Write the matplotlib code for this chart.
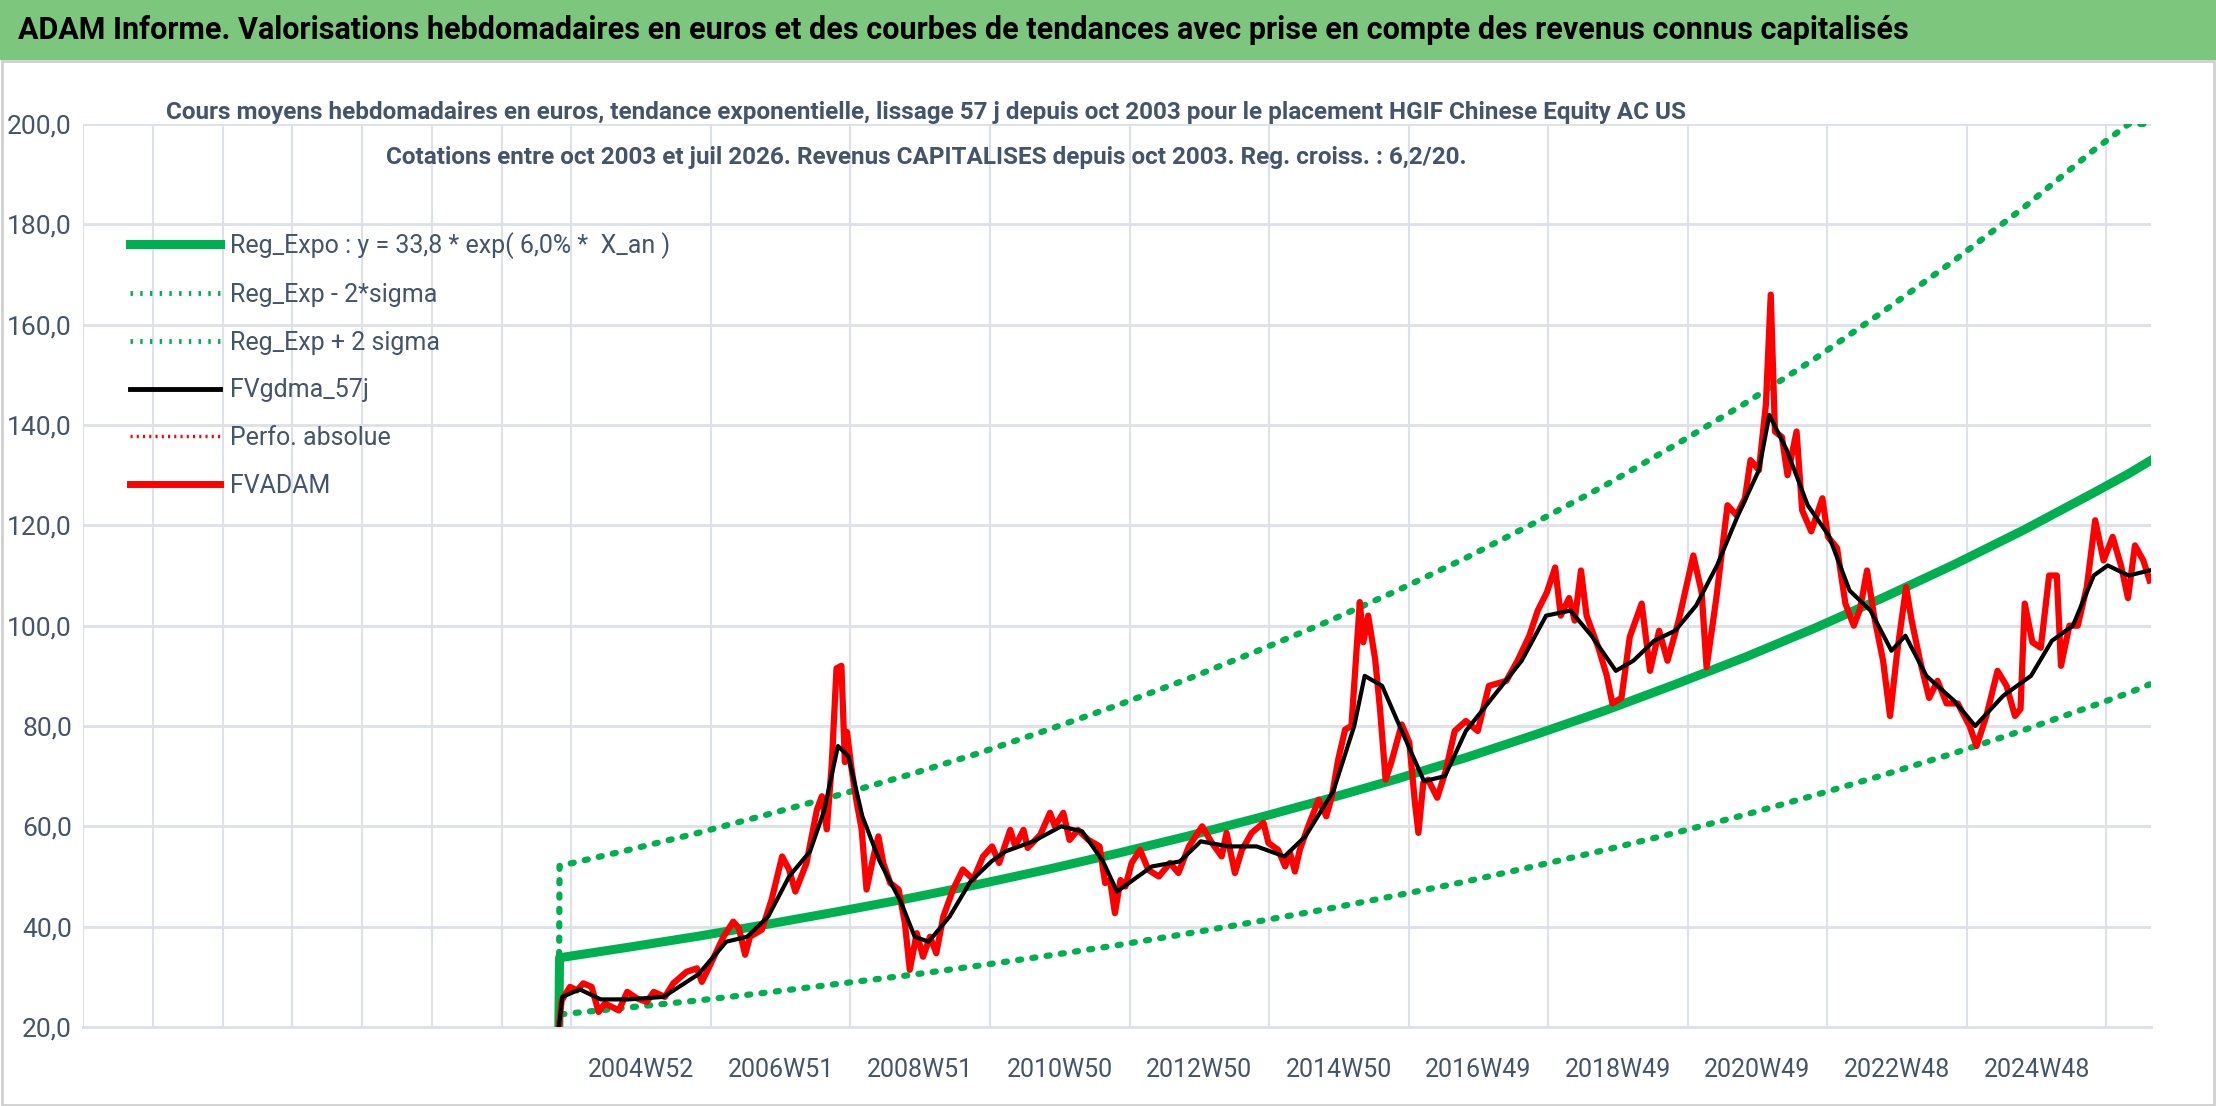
import matplotlib
matplotlib.use("Agg")
import matplotlib.pyplot as plt
import numpy as np
from matplotlib.lines import Line2D

# ---------------- data (decimal years, values in euros) ----------------
red_x = [2003.80, 2003.84, 2003.96, 2004.06, 2004.15, 2004.27, 2004.37, 2004.46, 2004.66, 2004.78, 2004.92,
         2005.06, 2005.16, 2005.32, 2005.44, 2005.63, 2005.78, 2005.85, 2005.97, 2006.16, 2006.30, 2006.38,
         2006.47, 2006.54, 2006.71, 2006.85, 2007.00, 2007.10, 2007.19, 2007.35, 2007.50, 2007.57, 2007.64,
         2007.71, 2007.78, 2007.85, 2007.90, 2007.93, 2007.99, 2008.07, 2008.14, 2008.21, 2008.31, 2008.38,
         2008.45, 2008.55, 2008.67, 2008.76, 2008.83, 2008.93, 2009.02, 2009.12, 2009.21, 2009.31, 2009.45,
         2009.59, 2009.74, 2009.88, 2010.01, 2010.11, 2010.27, 2010.34, 2010.46, 2010.52, 2010.70, 2010.84,
         2010.91, 2011.03, 2011.12, 2011.24, 2011.39, 2011.55, 2011.63, 2011.70, 2011.77, 2011.85, 2011.92,
         2012.01, 2012.13, 2012.25, 2012.40, 2012.56, 2012.68, 2012.83, 2013.02, 2013.16, 2013.30, 2013.37,
         2013.49, 2013.59, 2013.73, 2013.90, 2013.97, 2014.11, 2014.21, 2014.28, 2014.35, 2014.42, 2014.54,
         2014.69, 2014.80, 2014.88, 2014.97, 2015.07, 2015.16, 2015.28, 2015.33, 2015.40, 2015.50, 2015.57,
         2015.65, 2015.73, 2015.88, 2015.99, 2016.07, 2016.12, 2016.19, 2016.26, 2016.39, 2016.51, 2016.64,
         2016.80, 2016.97, 2017.13, 2017.38, 2017.54, 2017.71, 2017.83, 2017.96, 2018.08, 2018.16, 2018.28,
         2018.36, 2018.45, 2018.53, 2018.70, 2018.82, 2018.90, 2019.03, 2019.15, 2019.32, 2019.44, 2019.57,
         2019.69, 2019.85, 2020.06, 2020.18, 2020.25, 2020.39, 2020.55, 2020.68, 2020.80, 2020.88, 2021.00,
         2021.10, 2021.17, 2021.23, 2021.33, 2021.41, 2021.54, 2021.62, 2021.75, 2021.91, 2021.99, 2022.12,
         2022.24, 2022.36, 2022.45, 2022.55, 2022.65, 2022.78, 2022.88, 2022.98, 2023.11, 2023.19, 2023.31,
         2023.44, 2023.56, 2023.69, 2023.85, 2024.02, 2024.12, 2024.26, 2024.42, 2024.55, 2024.67, 2024.75,
         2024.81, 2024.92, 2025.04, 2025.16, 2025.27, 2025.33, 2025.45, 2025.57, 2025.70, 2025.82, 2025.94,
         2026.07, 2026.19, 2026.29, 2026.39, 2026.51, 2026.60]
red_y = [20.0, 25.3, 28.0, 27.3, 28.7, 28.0, 23.0, 24.7, 23.3, 27.0, 25.7,
         25.0, 27.0, 26.0, 28.7, 31.0, 31.7, 29.0, 32.4, 38.0, 41.0, 39.7,
         34.4, 38.0, 39.4, 45.4, 54.0, 51.4, 47.0, 52.7, 63.4, 66.0, 59.4,
         72.0, 91.5, 92.0, 72.8, 78.8, 72.0, 64.7, 59.4, 47.4, 54.0, 58.0,
         52.7, 48.7, 47.4, 40.7, 31.4, 38.7, 34.0, 38.0, 34.7, 42.0, 47.4,
         51.4, 49.4, 54.0, 56.0, 52.7, 59.3, 56.0, 59.3, 55.7, 58.3, 62.7,
         60.0, 62.7, 57.3, 59.3, 57.3, 56.0, 48.7, 49.3, 42.7, 49.3, 48.0,
         52.7, 55.3, 51.3, 50.0, 52.7, 50.7, 56.0, 60.0, 56.7, 54.0, 58.7,
         50.7, 55.3, 58.7, 60.7, 56.7, 55.3, 52.0, 54.7, 51.0, 55.3, 60.0,
         65.3, 62.0, 66.0, 73.3, 79.3, 80.0, 104.7, 96.7, 102.0, 93.3, 83.3,
         69.3, 72.7, 80.3, 76.7, 64.7, 58.7, 68.7, 69.3, 65.7, 71.0, 79.0,
         81.0, 79.0, 88.0, 89.0, 93.0, 98.0, 103.0, 106.6, 111.6, 102.0, 105.5,
         101.0, 111.0, 102.0, 95.6, 90.0, 84.5, 85.6, 97.8, 104.4, 91.0, 99.0,
         93.0, 101.0, 114.0, 106.6, 91.7, 105.5, 124.0, 122.0, 125.4, 133.0, 131.0,
         144.0, 166.0, 138.7, 137.6, 130.0, 138.7, 123.0, 118.8, 125.4, 117.7, 115.5,
         104.4, 100.0, 103.3, 111.0, 102.0, 93.0, 82.0, 94.5, 107.7, 101.0, 93.0,
         85.6, 89.0, 84.5, 84.5, 80.0, 76.0, 82.0, 91.0, 88.0, 82.0, 83.4,
         104.4, 96.7, 95.6, 110.0, 110.0, 92.0, 100.0, 100.0, 107.7, 121.0, 113.0,
         117.7, 112.0, 105.5, 116.0, 113.0, 109.0]

black_x = [2003.80, 2003.85, 2004.10, 2004.40, 2004.80, 2005.30, 2005.80, 2006.20, 2006.50, 2006.80, 2007.10,
           2007.40, 2007.60, 2007.80, 2007.95, 2008.15, 2008.40, 2008.70, 2008.90, 2009.10, 2009.40, 2009.70,
           2010.00, 2010.20, 2010.60, 2011.00, 2011.30, 2011.60, 2011.80, 2012.00, 2012.30, 2012.70, 2013.00,
           2013.40, 2013.80, 2014.20, 2014.50, 2014.90, 2015.20, 2015.35, 2015.60, 2015.85, 2016.20, 2016.50,
           2016.80, 2017.20, 2017.60, 2017.95, 2018.30, 2018.60, 2018.95, 2019.20, 2019.50, 2019.80, 2020.10,
           2020.40, 2020.70, 2021.00, 2021.15, 2021.40, 2021.70, 2022.00, 2022.30, 2022.60, 2022.90, 2023.10,
           2023.40, 2023.80, 2024.10, 2024.50, 2024.90, 2025.20, 2025.50, 2025.80, 2026.00, 2026.30, 2026.60]
black_y = [20.0, 26.0, 27.5, 25.5, 25.5, 26.0, 30.5, 37.0, 38.0, 42.0, 50.0,
           55.0, 63.0, 76.0, 74.0, 62.0, 53.0, 45.0, 38.0, 37.0, 42.0, 49.0,
           53.0, 55.0, 57.0, 60.0, 59.0, 53.0, 47.0, 49.0, 52.0, 53.0, 57.0,
           56.0, 56.0, 54.0, 58.0, 67.0, 80.0, 90.0, 88.0, 80.0, 69.0, 70.0,
           79.0, 86.0, 93.0, 102.0, 103.0, 98.0, 91.0, 93.0, 97.0, 99.0, 104.0,
           112.0, 122.0, 131.0, 142.0, 135.0, 124.0, 118.0, 107.0, 103.0, 95.0, 98.0,
           90.0, 85.0, 80.0, 86.0, 90.0, 97.0, 100.0, 110.0, 112.0, 110.0, 111.0]

trend_x = [2003.80, 2003.81, 2004.8, 2005.8, 2006.8, 2007.8, 2008.8, 2009.8, 2010.8, 2011.8, 2012.8, 2013.8,
           2014.8, 2015.8, 2016.8, 2017.8, 2018.8, 2019.8, 2020.8, 2021.8, 2022.8, 2023.8, 2024.8,
           2025.8, 2026.3, 2026.6]
trend_y = [20.0, 33.8, 35.9, 38.1, 40.5, 43.0, 45.6, 48.4, 51.4, 54.6, 58.0, 61.6,
           65.4, 69.4, 73.7, 78.3, 83.1, 88.3, 93.7, 99.5, 105.7, 112.2, 119.1,
           126.5, 130.3, 132.8]
upper_y = [20.0, 52.1, 55.3, 58.7, 62.4, 66.2, 70.2, 74.5, 79.2, 84.1, 89.3, 94.9,
           100.7, 106.9, 113.5, 120.6, 128.0, 136.0, 144.3, 153.2, 162.8, 172.8, 183.4,
           194.8, 200.0, 200.0]
lower_y = [20.0, 22.5, 23.9, 25.3, 26.9, 28.6, 30.3, 32.2, 34.2, 36.3, 38.6, 41.0,
           43.5, 46.2, 49.0, 52.1, 55.3, 58.7, 62.3, 66.2, 70.3, 74.6, 79.2,
           84.1, 86.6, 88.3]

tick_labels = ["2004W52", "2006W51", "2008W51", "2010W50", "2012W50", "2014W50",
               "2016W49", "2018W49", "2020W49", "2022W48", "2024W48"]
first_label_year = 2004.98
y_ticks = [20, 40, 60, 80, 100, 120, 140, 160, 180, 200]

title = "ADAM Informe. Valorisations hebdomadaires en euros et des courbes de tendances avec prise en compte des revenus connus capitalisés"
subtitle1 = "Cours moyens hebdomadaires en euros, tendance exponentielle, lissage 57 j depuis oct 2003 pour le placement HGIF Chinese Equity AC US"
subtitle2 = "Cotations entre oct 2003 et juil 2026. Revenus CAPITALISES depuis oct 2003. Reg. croiss. : 6,2/20."
legend_labels = ["Reg_Expo : y = 33,8 * exp( 6,0% *  X_an )", "Reg_Exp - 2*sigma", "Reg_Exp + 2 sigma",
                 "FVgdma_57j", "Perfo. absolue", "FVADAM"]

# ---------------- figure ----------------
FONT = ["Roboto", "DejaVu Sans"]
plt.rcParams['font.family'] = FONT
fig = plt.figure(figsize=(22.16, 11.06), dpi=100)
fig.patch.set_facecolor("white")

fig.patches.append(plt.Rectangle((0, 1 - 60 / 1106), 1, 60 / 1106, transform=fig.transFigure,
                                 facecolor="#7DC67D", edgecolor="none", zorder=0))
fig.text(0.008, 1 - 30 / 1106, title, fontsize=22, fontweight="bold", color="black",
         va="center", ha="left")

ax = fig.add_axes([83 / 2216, 1 - 1027 / 1106, (2151 - 83) / 2216, (1027 - 124) / 1106])
x_left = first_label_year - 8
x_right = 2026.62
ax.set_xlim(x_left, x_right)
ax.set_ylim(20, 200)

green = "#00B050"
dots = (0, (0.5, 1.8))
ax.plot(trend_x, upper_y, color=green, lw=4.5, ls=dots, dash_capstyle="round", zorder=3)
ax.plot(trend_x, lower_y, color=green, lw=4.5, ls=dots, dash_capstyle="round", zorder=3)
ax.plot(trend_x, trend_y, color=green, lw=6.5, zorder=4)
ax.plot(red_x, red_y, color="#FF0000", lw=4.5, zorder=5, solid_joinstyle="round")
ax.plot(black_x, black_y, color="black", lw=3, zorder=6)

grid_pos = [x_left + k for k in range(0, 30)]
ax.set_xticks(grid_pos, minor=True)
ax.set_xticks([first_label_year + 2 * i for i in range(len(tick_labels))])
ax.set_xticklabels(tick_labels, fontsize=18, color="#44546A")
ax.grid(True, which="minor", axis="x", color="#DDE1E8", lw=1.5)
ax.set_yticks(y_ticks)
ax.set_yticklabels([f"{v:.1f}".replace(".", ",") for v in y_ticks], fontsize=19, color="#44546A")
ax.grid(True, which="major", axis="y", color="#DDE1E8", lw=2)
ax.tick_params(axis="x", which="both", length=0, pad=22)
ax.tick_params(axis="y", length=0, pad=8)
for s in ["top", "right", "left"]:
    ax.spines[s].set_visible(False)
ax.spines["bottom"].set_color("#DDE1E8")
ax.spines["bottom"].set_linewidth(2)
ax.set_axisbelow(True)

fig.text(0.418, 1 - 113 / 1106, subtitle1, fontsize=17.5, fontweight="bold", color="#44546A",
         ha="center", va="center")
fig.text(0.418, 1 - 158 / 1106, subtitle2, fontsize=17.5, fontweight="bold", color="#44546A",
         ha="center", va="center")

handles = [Line2D([], [], color=green, lw=6.5),
           Line2D([], [], color=green, lw=3.5, ls=(0, (0.5, 1.5))),
           Line2D([], [], color=green, lw=3.5, ls=(0, (0.5, 1.5))),
           Line2D([], [], color="black", lw=3.5),
           Line2D([], [], color="red", lw=2.5, ls=(0, (0.6, 1.2))),
           Line2D([], [], color="red", lw=5)]
leg = ax.legend(handles, legend_labels, loc="upper left", bbox_to_anchor=(0.012, 0.905),
                frameon=False, fontsize=18, handlelength=3.6, labelspacing=0.95, handletextpad=0.4)
for t in leg.get_texts():
    t.set_color("#44546A")

fig.patches.append(plt.Rectangle((0.001, 0.001), 0.998, 1 - 62 / 1106, transform=fig.transFigure,
                                 facecolor="none", edgecolor="#D0D0D0", lw=2, zorder=0))

fig.savefig("out.png", dpi=100)
